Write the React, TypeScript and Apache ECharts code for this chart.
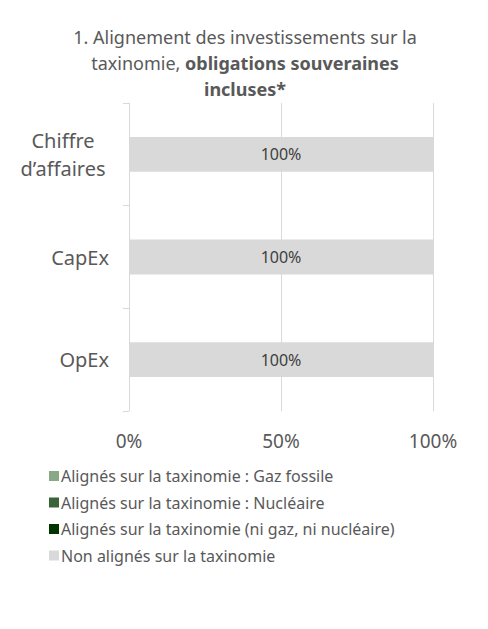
import React, { useEffect, useRef } from "react";
import * as echarts from "echarts";

const categories = ["Chiffre\nd’affaires", "CapEx", "OpEx"];
const seriesNames = [
  "Alignés sur la taxinomie : Gaz fossile",
  "Alignés sur la taxinomie : Nucléaire",
  "Alignés sur la taxinomie (ni gaz, ni nucléaire)",
  "Non alignés sur la taxinomie",
];
const gasValues = [0, 0, 0];
const nuclearValues = [0, 0, 0];
const alignedValues = [0, 0, 0];
const nonAlignedValues = [100, 100, 100];
const xTicks = [0, 50, 100];

const colors = ["#89a886", "#3b6338", "#013401", "#d9d9d9"];
const FONT = "'Noto Sans', 'Open Sans', sans-serif";

export default function App() {
  const ref = useRef<HTMLDivElement>(null);
  useEffect(() => {
    document.body.style.margin = "0";
    const chart = echarts.init(ref.current!, null, { renderer: "svg" });
    const values = [gasValues, nuclearValues, alignedValues, nonAlignedValues];
    const titleStyle = { fontSize: 18, fontFamily: FONT, fill: "#595959" };
    chart.setOption({
      animation: false,
      backgroundColor: "#ffffff",
      textStyle: { fontFamily: FONT },
      grid: { left: 129, right: 55, top: 103, bottom: 218, containLabel: false },
      graphic: [
        {
          type: "text",
          x: 245,
          y: 37,
          style: {
            ...titleStyle,
            text: "1. Alignement des investissements sur la",
            align: "center",
            verticalAlign: "middle",
          },
        },
        {
          type: "text",
          x: 245,
          y: 63,
          style: {
            ...titleStyle,
            text: "taxinomie, {b|obligations souveraines}",
            align: "center",
            verticalAlign: "middle",
            rich: { b: { ...titleStyle, fontWeight: "bold" } },
          },
        },
        {
          type: "text",
          x: 245,
          y: 89,
          style: {
            ...titleStyle,
            text: "incluses*",
            align: "center",
            verticalAlign: "middle",
            fontWeight: "bold",
          },
        },
      ],
      legend: {
        orient: "vertical",
        left: 44,
        top: 463,
        itemWidth: 10,
        itemHeight: 10,
        itemGap: 10.5,
        icon: "rect",
        data: seriesNames,
        textStyle: { fontSize: 16, color: "#595959", fontFamily: FONT, padding: [0, 0, 0, -3] },
      },
      xAxis: {
        type: "value",
        min: 0,
        max: 100,
        interval: 50,
        axisLine: { show: false },
        axisTick: { show: false },
        splitLine: { show: true, lineStyle: { color: "#d9d9d9", width: 1 } },
        axisLabel: {
          formatter: (v: number) => (xTicks.includes(v) ? v + "%" : ""),
          fontSize: 19,
          color: "#595959",
          margin: 20,
          fontFamily: FONT,
        },
      },
      yAxis: {
        type: "category",
        data: categories,
        inverse: true,
        axisLine: { show: true, lineStyle: { color: "#d9d9d9", width: 1 } },
        axisTick: { show: true, length: 6, lineStyle: { color: "#d9d9d9" } },
        axisLabel: {
          color: "#595959",
          margin: 20,
          align: "right",
          fontFamily: FONT,
          fontSize: 20,
          formatter: (v: string) =>
            v.includes("\n")
              ? v
                  .split("\n")
                  .map((s) => "{c|" + s + "}")
                  .join("\n")
              : "{s|" + v + "}",
          rich: {
            c: { fontSize: 20, lineHeight: 28, width: 92, align: "center", color: "#595959", fontFamily: FONT },
            s: { fontSize: 20, lineHeight: 28, color: "#595959", fontFamily: FONT },
          },
        },
      },
      series: seriesNames.map((name, i) => ({
        name,
        type: "bar",
        stack: "total",
        barWidth: "34%",
        data: values[i],
        itemStyle: { color: colors[i] },
        label:
          i === 3
            ? {
                show: true,
                position: "inside",
                formatter: (p: any) => (p.value > 0 ? p.value + "%" : ""),
                fontSize: 16,
                color: "#404040",
                fontFamily: FONT,
              }
            : { show: false },
      })),
    });
    return () => chart.dispose();
  }, []);
  return (
    <div
      style={{
        position: "absolute",
        left: 0,
        top: 0,
        width: 488,
        height: 629,
        boxSizing: "border-box",
        borderTop: "2px solid #f4dfcd",
        borderLeft: "3px solid #f1e4d8",
        borderBottom: "1px solid #eeeeee",
        background: "#fff",
      }}
    >
      <div ref={ref} style={{ position: "absolute", left: -3, top: -2, width: 488, height: 629 }} />
    </div>
  );
}
